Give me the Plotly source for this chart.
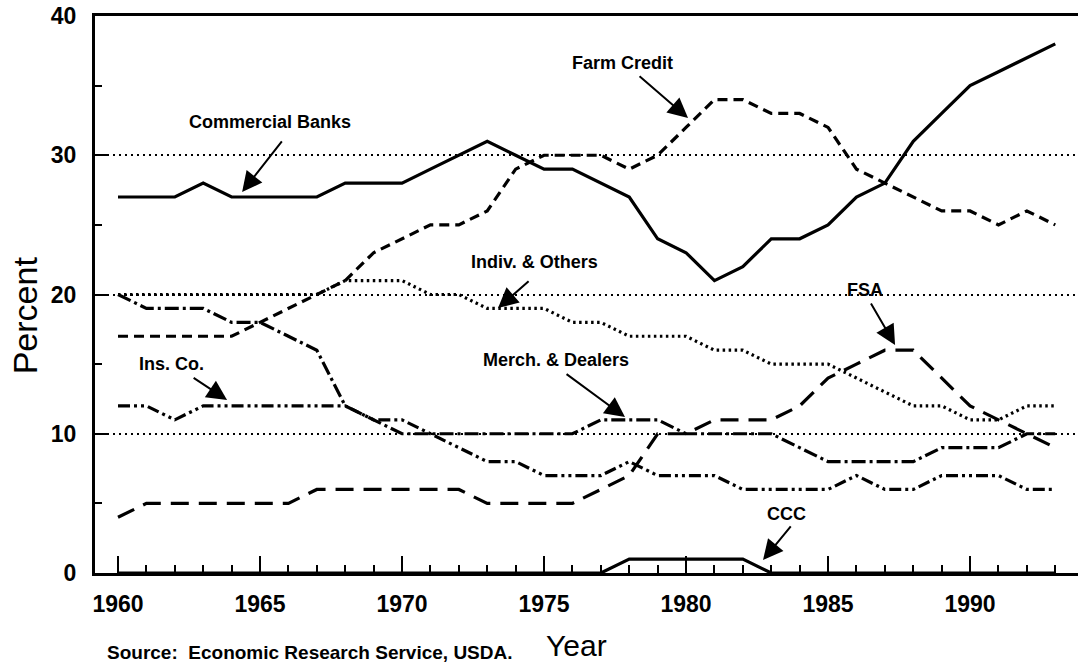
import plotly.graph_objects as go

years = list(range(1960, 1994))
commercial_banks = [27, 27, 27, 28, 27, 27, 27, 27, 28, 28, 28, 29, 30, 31, 30, 29, 29,
                    28, 27, 24, 23, 21, 22, 24, 24, 25, 27, 28, 31, 33, 35, 36, 37, 38]
farm_credit = [17, 17, 17, 17, 17, 18, 19, 20, 21, 23, 24, 25, 25, 26, 29, 30, 30,
               30, 29, 30, 32, 34, 34, 33, 33, 32, 29, 28, 27, 26, 26, 25, 26, 25]
indiv_others = [20, 20, 20, 20, 20, 20, 20, 20, 21, 21, 21, 20, 20, 19, 19, 19, 18,
                18, 17, 17, 17, 16, 16, 15, 15, 15, 14, 13, 12, 12, 11, 11, 12, 12]
fsa = [4, 5, 5, 5, 5, 5, 5, 6, 6, 6, 6, 6, 6, 5, 5, 5, 5,
       6, 7, 10, 10, 11, 11, 11, 12, 14, 15, 16, 16, 14, 12, 11, 10, 9]
merch_dealers = [20, 19, 19, 19, 18, 18, 17, 16, 12, 11, 10, 10, 10, 10, 10, 10, 10,
                 11, 11, 11, 10, 10, 10, 10, 9, 8, 8, 8, 8, 9, 9, 9, 10, 10]
ins_co = [12, 12, 11, 12, 12, 12, 12, 12, 12, 11, 11, 10, 9, 8, 8, 7, 7,
          7, 8, 7, 7, 7, 6, 6, 6, 6, 7, 6, 6, 7, 7, 7, 6, 6]
ccc = [0, 0, 0, 0, 0, 0, 0, 0, 0, 0, 0, 0, 0, 0, 0, 0, 0,
       0, 1, 1, 1, 1, 1, 0, 0, 0, 0, 0, 0, 0, 0, 0, 0, 0]

y_tick_vals = [0, 10, 20, 30, 40]
y_tick_text = ["0", "10", "20", "30", "40"]

series = [
    ("Commercial Banks", commercial_banks, "solid"),
    ("Farm Credit", farm_credit, "10px,6px"),
    ("Indiv. & Others", indiv_others, "2.5px,3.5px"),
    ("FSA", fsa, "18px,10px"),
    ("Merch. & Dealers", merch_dealers, "14px,4px,3px,4px"),
    ("Ins. Co.", ins_co, "12px,4px,3px,4px,3px,4px"),
    ("CCC", ccc, "solid"),
]

fig = go.Figure()
for name, vals, dash in series:
    fig.add_trace(go.Scatter(x=years, y=vals, mode="lines", name=name,
                             line=dict(color="black", width=3.2, dash=dash),
                             showlegend=False, cliponaxis=True))

label_font = dict(family="Liberation Sans, Arial", size=18, color="black", weight="bold")

# (label, label_x, label_y, tail_x, tail_y, tip_x, tip_y) in data units
labels = [
    ("Commercial Banks", 1965.35, 32.4, 1965.81, 31.1, 1964.37, 27.36),
    ("Farm Credit", 1977.75, 36.6, 1978.31, 35.76, 1980.07, 32.67),
    ("Indiv. & Others", 1974.68, 22.3, 1974.51, 21.04, 1973.38, 19.03),
    ("FSA", 1986.3, 20.3, 1986.48, 19.46, 1987.36, 16.37),
    ("Ins. Co.", 1961.9, 15.0, 1962.61, 14.08, 1963.84, 12.42),
    ("Merch. & Dealers", 1975.42, 15.3, 1975.74, 14.36, 1977.85, 11.2),
    ("CCC", 1983.52, 4.24, 1983.73, 3.45, 1982.71, 0.93),
]
for text, lx, ly, tx, ty, hx, hy in labels:
    fig.add_annotation(x=lx, y=ly, xref="x", yref="y", text=text, showarrow=False,
                       font=label_font, xanchor="center", yanchor="middle")
    fig.add_annotation(x=hx, y=hy, xref="x", yref="y", ax=tx, ay=ty, axref="x", ayref="y",
                       text="", showarrow=True, arrowhead=2, arrowsize=2, arrowwidth=2,
                       arrowcolor="black", standoff=0, startstandoff=0)

# titles / source
fig.add_annotation(x=-0.071, y=0.463, xref="paper", yref="paper", text="Percent",
                   textangle=-90, showarrow=False, xanchor="center", yanchor="middle",
                   font=dict(family="Liberation Sans, Arial", size=34, color="black"))
fig.add_annotation(x=0.49, y=-0.13, xref="paper", yref="paper", text="Year",
                   showarrow=False, xanchor="center", yanchor="middle",
                   font=dict(family="Liberation Sans, Arial", size=30, color="black"))
fig.add_annotation(x=0.01, y=-0.142, xref="paper", yref="paper",
                   text="Source:  Economic Research Service, USDA.",
                   showarrow=False, xanchor="left", yanchor="middle",
                   font=dict(family="Liberation Sans, Arial", size=19, color="black",
                             weight="bold"))

tick_font = dict(family="Liberation Sans, Arial", size=23, color="black", weight="bold")

fig.update_xaxes(range=[1959.19, 1993.8], tickmode="linear", tick0=1960, dtick=5,
                 ticks="inside", ticklen=17, tickwidth=2, tickcolor="black",
                 showline=True, linewidth=3, linecolor="black", mirror=True,
                 showgrid=False, zeroline=False, tickfont=tick_font,
                 ticklabelstandoff=8,
                 minor=dict(tick0=1960, dtick=1, ticks="inside", ticklen=8,
                            tickwidth=2, tickcolor="black", showgrid=False))
fig.update_yaxes(range=[0, 40], tickmode="array", tickvals=y_tick_vals, ticktext=y_tick_text,
                 ticks="inside", ticklen=12, tickwidth=2, tickcolor="black",
                 showline=True, linewidth=3, linecolor="black",
                 showgrid=True, gridcolor="black", gridwidth=2.4, griddash="2px,4px",
                 zeroline=False, tickfont=tick_font, ticklabelstandoff=11,
                 minor=dict(tickvals=[5, 15, 25, 35], ticks="inside", ticklen=7,
                            tickwidth=2, tickcolor="black", showgrid=False))

fig.update_layout(width=1078, height=666, autosize=False,
                  margin=dict(l=95, r=0, t=16, b=93),
                  paper_bgcolor="white", plot_bgcolor="white", showlegend=False)

fig.write_html("out.html", config={"displayModeBar": False},
               post_script="document.body.style.margin='0';document.body.style.overflow='hidden';")
